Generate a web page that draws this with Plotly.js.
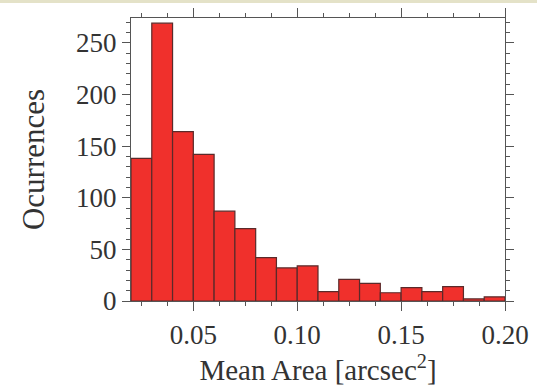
<!DOCTYPE html>
<html>
<head>
<meta charset="utf-8">
<script src="https://cdn.plot.ly/plotly-3.0.1.min.js"></script>
<style>html,body{margin:0;padding:0;background:#fff;}#chart{width:537px;height:389px;}</style>
</head>
<body>
<div id="chart"></div>
<script>
// Histogram of mean area (bins of 0.01 arcsec^2)
var binCenters = [0.025, 0.035, 0.045, 0.055, 0.065, 0.075, 0.085, 0.095, 0.105,
                  0.115, 0.125, 0.135, 0.145, 0.155, 0.165, 0.175, 0.185, 0.195];
var counts = [138, 269, 164, 142, 87, 70, 42, 32, 34,
              9, 21, 17, 8, 13, 9, 14, 2, 4];
var xTickVals = [0.05, 0.10, 0.15, 0.20];
var xTickText = ['0.05', '0.10', '0.15', '0.20'];
var yTickVals = [0, 50, 100, 150, 200, 250];

var fontFam = '"Liberation Serif", "DejaVu Serif", serif';
var axisCol = '#555555';

var trace = {
  type: 'bar',
  x: binCenters,
  y: counts,
  width: 0.01,
  marker: {color: '#f0302c', line: {color: '#5a2a2a', width: 1.2}},
  hoverinfo: 'x+y'
};

var layout = {
  width: 537, height: 389,
  margin: {l: 131, r: 32, t: 18, b: 88},
  paper_bgcolor: '#ffffff',
  plot_bgcolor: '#ffffff',
  showlegend: false,
  bargap: 0,
  font: {family: fontFam, color: '#333333', size: 27},
  xaxis: {
    range: [0.02, 0.20],
    tickvals: xTickVals, ticktext: xTickText,
    ticks: 'outside', ticklen: 9, tickwidth: 1, tickcolor: axisCol,
    minor: {dtick: 0.0125, tick0: 0, ticks: 'outside', ticklen: 4, tickcolor: axisCol, tickwidth: 1},
    showline: true, linecolor: axisCol, linewidth: 1.2, mirror: 'allticks',
    showgrid: false, zeroline: false,
    tickfont: {family: fontFam, size: 27, color: '#333333'},
    title: {text: 'Mean Area [arcsec<sup>2</sup>]', font: {family: fontFam, size: 29, color: '#333333'}, standoff: 0}
  },
  yaxis: {
    range: [0, 274],
    tickvals: yTickVals,
    ticks: 'outside', ticklen: 8, tickwidth: 1, tickcolor: axisCol,
    minor: {dtick: 10, tick0: 0, ticks: 'outside', ticklen: 4, tickcolor: axisCol, tickwidth: 1},
    showline: true, linecolor: axisCol, linewidth: 1.2, mirror: 'allticks',
    showgrid: false, zeroline: false,
    tickfont: {family: fontFam, size: 27, color: '#333333'},
    title: {text: 'Ocurrences', font: {family: fontFam, size: 31, color: '#333333'}, standoff: 22}
  },
  shapes: [{
    type: 'rect', xref: 'paper', yref: 'paper',
    x0: -0.5, x1: 1.2, y0: 1 + 15/283, y1: 1 + 20/283,
    line: {width: 0}, fillcolor: '#e4e2c8', layer: 'below'
  }]
};

Plotly.newPlot('chart', [trace], layout, {displayModeBar: false, staticPlot: true});
</script>
</body>
</html>
